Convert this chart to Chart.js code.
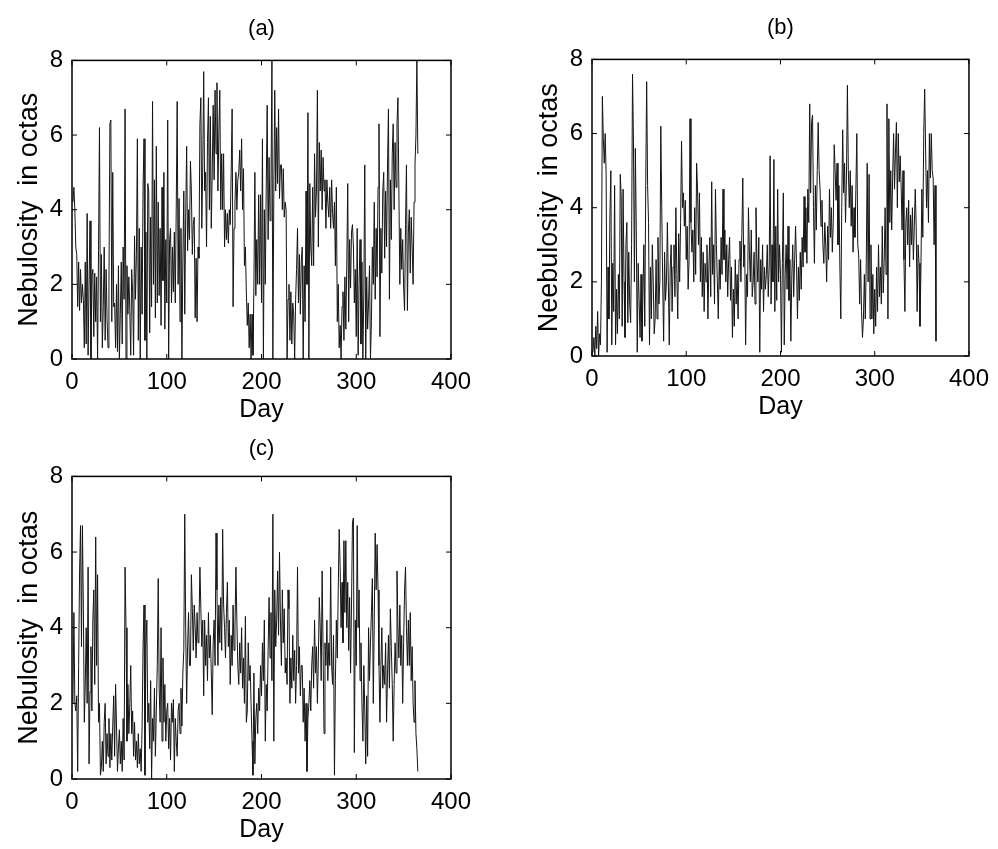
<!DOCTYPE html>
<html>
<head>
<meta charset="utf-8">
<title>Nebulosity</title>
<script src="https://cdn.jsdelivr.net/npm/chart.js@4.4.1/dist/chart.umd.min.js"></script>
<style>
  body { margin: 0; background: #fff; }
  #wrap { position: relative; width: 998px; height: 849px; background: #fff; }
  canvas { position: absolute; }
</style>
</head>
<body>
<div id="wrap">
  <canvas id="chartA" width="490" height="440" style="left:0px;top:0px"></canvas>
  <canvas id="chartB" width="478" height="440" style="left:520px;top:0px"></canvas>
  <canvas id="chartC" width="490" height="424" style="left:0px;top:425px"></canvas>
</div>
<script>
// daily nebulosity (octas)
const seriesA = [
  4.2, 4.6, 4.0, 3.0, 2.8, 1.4, 2.6, 1.3, 2.4, 1.5,
  2.0, 1.6, 0.3, 2.6, 0.4, 3.9, 0.1, 2.0, 3.7, 0.0,
  2.2, 2.4, 0.6, 2.3, 1.0, 2.2, 0.0, 2.9, 6.2, 1.0,
  2.8, 0.3, 1.4, 3.0, 0.5, 2.4, 1.1, 0.3, 2.0, 6.3,
  6.4, 1.0, 5.0, 1.4, 1.5, 0.3, 2.0, 0.2, 2.5, 0.0,
  1.2, 2.6, 0.4, 3.0, 1.6, 6.7, 0.0, 2.5, 1.2, 2.2,
  1.3, 0.1, 2.4, 1.8, 0.1, 3.3, 1.6, 2.8, 5.9, 0.5,
  3.5, 0.0, 3.0, 1.2, 4.6, 5.9, 0.5, 3.4, 0.0, 4.7,
  4.5, 0.7, 3.8, 1.4, 6.9, 2.0, 4.8, 1.1, 5.7, 1.5,
  4.2, 1.7, 3.5, 0.9, 4.6, 2.1, 5.0, 0.8, 3.2, 1.5,
  6.4, 0.0, 3.2, 3.5, 1.5, 3.0, 1.8, 3.4, 1.5, 4.0,
  6.9, 2.0, 4.3, 1.0, 3.5, 0.0, 2.6, 4.5, 1.2, 3.8,
  5.7, 2.9, 4.0, 3.2, 5.3, 4.5, 2.8, 3.6, 3.8, 1.1,
  2.7, 1.0, 3.0, 2.7, 6.3, 7.0, 3.5, 5.2, 7.7, 4.5,
  5.0, 3.0, 5.8, 7.0, 4.0, 6.5, 3.5, 5.0, 6.8, 4.8,
  7.2, 5.5, 7.4, 4.5, 6.1, 7.2, 4.0, 5.5, 4.0, 5.5,
  3.0, 4.0, 3.2, 3.9, 3.1, 4.0, 3.6, 5.0, 6.7, 1.4,
  3.5, 4.2, 5.0, 4.0, 4.8, 5.0, 5.6, 4.5, 5.9, 4.0,
  5.1, 2.5, 3.0, 1.8, 0.9, 1.5, 0.3, 1.2, 0.0, 1.2,
  0.1, 2.0, 5.0, 1.7, 3.2, 2.0, 4.4, 2.0, 4.4, 1.5,
  5.9, 0.0, 4.0, 2.0, 4.6, 6.8, 3.2, 5.4, 3.7, 4.5,
  8.0, 0.0, 4.5, 7.2, 4.5, 6.2, 4.7, 6.7, 4.3, 5.2,
  5.2, 4.0, 5.1, 3.8, 4.2, 4.0, 0.0, 1.6, 2.0, 0.5,
  1.8, 0.4, 1.5, 1.2, 0.0, 1.6, 2.4, 3.5, 1.5, 2.8,
  1.2, 2.6, 3.0, 0.0, 2.5, 1.0, 4.5, 2.0, 6.6, 0.0,
  4.7, 3.0, 2.5, 4.6, 2.5, 5.5, 3.8, 4.5, 7.2, 3.0,
  5.8, 4.5, 5.6, 4.0, 5.4, 4.5, 4.8, 3.5, 4.8, 4.2,
  3.8, 4.6, 3.5, 4.8, 3.9, 3.5, 4.2, 2.5, 4.6, 1.0,
  2.0, 0.3, 0.9, 0.0, 1.4, 1.8, 0.5, 2.2, 0.8, 2.5,
  4.7, 1.0, 3.2, 1.9, 3.4, 3.6, 3.0, 1.5, 2.4, 0.6,
  3.5, 0.1, 2.0, 3.2, 0.4, 2.6, 0.0, 1.8, 5.2, 0.0,
  2.2, 0.8, 1.5, 2.5, 0.0, 1.0, 3.0, 2.0, 4.2, 1.6,
  3.5, 2.2, 4.6, 6.3, 0.6, 3.5, 2.3, 4.5, 5.0, 2.7,
  4.5, 3.0, 5.2, 6.7, 1.6, 4.8, 3.2, 5.5, 6.3, 4.0,
  5.8, 4.6, 6.3, 7.0, 4.5, 2.0, 3.5, 2.4, 3.2, 1.9,
  1.3, 3.6, 5.2, 1.3, 3.4, 4.0, 2.3, 3.8, 3.0, 2.0,
  4.2, 5.2, 6.0, 8.0, 5.5
];

const seriesB = [
  0.1, 0.5, 0.0, 0.8, 0.2, 1.2, 0.0, 0.6, 0.3, 2.0,
  7.0, 5.9, 5.2, 6.0, 4.9, 0.1, 2.4, 1.0, 3.8, 5.0,
  0.3, 2.5, 1.2, 4.6, 0.3, 1.8, 0.6, 2.2, 1.0, 4.9,
  4.3, 0.8, 4.5, 2.0, 0.5, 3.0, 3.6, 0.9, 2.8, 1.4,
  0.9, 3.0, 7.6, 5.8, 2.0, 5.6, 3.4, 0.1, 2.5, 1.5,
  0.5, 2.2, 0.4, 1.6, 3.0, 0.8, 4.6, 7.4, 4.6, 3.6,
  0.3, 2.4, 1.0, 3.0, 2.0, 0.6, 1.0, 2.6, 1.0, 3.2,
  1.4, 2.0, 6.2, 4.0, 2.0, 0.4, 2.8, 1.5, 2.0, 3.6,
  2.0, 0.3, 2.4, 3.0, 1.2, 2.4, 3.0, 1.6, 4.0, 2.2,
  1.0, 3.3, 2.0, 3.6, 5.8, 4.0, 4.4, 3.5, 4.2, 2.6,
  3.5, 1.8, 2.6, 6.4, 3.6, 2.8, 3.4, 2.0, 4.0, 2.2,
  5.2, 4.5, 3.0, 4.4, 2.0, 3.2, 1.6, 2.8, 1.2, 2.5,
  2.0, 3.0, 1.0, 2.4, 3.2, 1.6, 4.7, 2.2, 3.0, 1.4,
  4.5, 3.0, 2.0, 1.0, 2.6, 1.8, 3.2, 2.2, 4.5, 2.6,
  3.4, 2.0, 3.0, 1.6, 2.6, 3.2, 1.5, 2.4, 0.5, 1.8,
  0.8, 2.6, 1.4, 2.2, 1.0, 2.6, 3.1, 2.0, 3.3, 4.8,
  2.4, 3.0, 0.3, 2.2, 1.6, 4.0, 2.8, 2.0, 3.4, 1.6,
  2.0, 2.8, 1.4, 4.0, 2.6, 2.0, 3.2, 0.1, 2.6, 1.8,
  3.0, 1.2, 2.4, 1.8, 2.2, 3.0, 1.6, 2.4, 5.4, 1.4,
  3.0, 2.0, 5.3, 1.2, 3.5, 1.5, 4.5, 2.0, 3.0, 2.2,
  0.1, 2.5, 4.4, 0.3, 2.2, 3.0, 1.8, 3.5, 1.5, 2.6,
  0.4, 2.2, 3.0, 1.6, 2.6, 3.5, 2.5, 1.0, 2.4, 1.5,
  2.8, 1.8, 3.2, 2.4, 4.3, 2.8, 4.0, 2.5, 4.5, 3.6,
  6.8, 4.4, 6.3, 6.5, 4.0, 2.5, 4.6, 3.4, 5.0, 6.3,
  5.0, 4.5, 3.5, 4.2, 3.0, 2.5, 3.6, 3.0, 2.0, 3.5,
  2.6, 4.5, 3.2, 4.0, 2.8, 3.6, 5.7, 5.0, 4.2, 5.2,
  3.0, 4.6, 2.4, 1.0, 4.0, 6.1, 4.4, 5.2, 3.6, 4.8,
  7.3, 5.0, 4.0, 5.0, 3.5, 4.6, 2.8, 4.0, 3.2, 4.5,
  6.0, 3.0, 2.7, 1.4, 2.6, 1.2, 0.5, 1.0, 2.2, 1.0,
  2.5, 5.2, 2.0, 4.9, 1.0, 3.0, 1.0, 2.2, 0.6, 1.8,
  0.8, 2.4, 1.2, 3.0, 1.6, 2.4, 1.4, 3.5, 1.7, 2.5,
  4.0, 2.2, 6.8, 1.0, 6.4, 3.6, 5.0, 3.4, 4.8, 6.0,
  4.5, 5.5, 6.3, 4.0, 6.0, 4.7, 5.4, 4.6, 3.4, 5.0,
  2.6, 1.2, 3.6, 4.0, 3.0, 4.2, 2.4, 3.8, 3.0, 4.0,
  2.6, 3.5, 4.5, 3.5, 1.2, 3.0, 2.5, 0.8, 2.3, 4.5,
  3.2, 6.0, 7.2, 5.5, 4.0, 5.0, 3.6, 6.0, 4.8, 6.0,
  5.0, 4.8, 3.0, 4.6, 0.4
];

const seriesC = [
  2.0, 4.4, 2.0, 1.8, 2.2, 0.2, 3.0, 5.5, 6.7, 3.5,
  6.7, 4.5, 1.5, 2.5, 4.0, 2.0, 5.6, 0.4, 2.3, 3.5,
  1.8, 4.2, 5.0, 2.5, 6.4, 3.0, 5.4, 1.5, 2.0, 0.1,
  0.3, 1.0, 0.2, 1.5, 2.0, 0.4, 1.2, 0.6, 1.6, 0.3,
  1.2, 0.5, 1.4, 2.2, 0.6, 2.5, 1.4, 0.2, 0.8, 1.3,
  0.4, 1.0, 0.2, 1.6, 0.5, 5.6, 4.0, 1.0, 2.5, 1.2,
  2.0, 3.0, 1.2, 1.8, 0.6, 1.5, 0.5, 1.0, 0.3, 1.2,
  0.4, 0.8, 0.2, 1.4, 3.5, 4.6, 0.1, 3.5, 4.2, 1.5,
  2.0, 0.8, 2.6, 0.0, 1.6, 1.0, 2.4, 0.6, 1.8, 3.0,
  5.3, 2.4, 1.5, 4.0, 1.0, 3.2, 1.5, 2.5, 1.0, 1.8,
  2.0, 0.8, 1.6, 0.5, 2.0, 1.5, 2.1, 0.2, 1.6, 1.0,
  0.6, 1.8, 2.0, 1.2, 2.4, 1.4, 2.8, 3.4, 7.0, 4.0,
  2.0, 3.5, 4.4, 3.0, 3.0, 5.4, 4.5, 3.4, 4.6, 4.0,
  3.2, 4.4, 3.6, 4.0, 5.6, 4.5, 3.5, 4.2, 2.2, 4.2,
  3.0, 3.8, 2.6, 4.4, 3.2, 3.8, 2.8, 1.7, 3.6, 4.2,
  3.0, 6.5, 5.0, 3.0, 4.6, 3.6, 4.8, 3.4, 6.6, 4.6,
  4.0, 3.2, 4.4, 5.2, 3.5, 4.2, 2.5, 3.8, 3.0, 4.6,
  3.4, 4.0, 5.6, 4.2, 3.0, 2.5, 3.6, 2.8, 4.0, 2.4,
  3.2, 2.0, 4.3, 1.5, 1.8, 3.6, 2.6, 3.0, 2.0, 1.0,
  0.1, 2.8, 0.4, 1.6, 2.0, 1.2, 2.4, 1.8, 3.0, 2.2,
  3.6, 2.6, 4.2, 1.0, 2.5, 1.8, 3.4, 4.8, 3.2, 4.4,
  2.6, 7.0, 1.0, 5.0, 3.5, 4.2, 5.5, 3.8, 6.0, 4.2,
  3.0, 5.0, 3.6, 4.5, 2.8, 3.2, 2.5, 5.0, 4.5, 2.0,
  3.2, 2.4, 3.8, 2.6, 3.4, 2.0, 3.0, 5.6, 2.8, 3.5,
  2.2, 3.0, 3.0, 1.5, 2.4, 1.0, 2.0, 0.2, 1.6, 2.0,
  2.6, 1.8, 3.0, 3.5, 2.4, 4.2, 2.8, 3.5, 2.0, 3.2,
  4.8, 4.0, 2.6, 5.5, 3.4, 1.2, 3.6, 3.0, 4.2, 2.6,
  3.6, 3.0, 5.6, 3.0, 2.5, 3.8, 0.1, 2.6, 4.2, 3.2,
  5.0, 6.6, 5.6, 4.0, 5.2, 3.6, 6.3, 4.4, 6.3, 4.0,
  5.2, 3.4, 4.8, 2.8, 4.6, 6.8, 6.9, 0.7, 4.2, 3.0,
  6.7, 4.0, 5.0, 2.6, 3.6, 2.0, 1.0, 3.0, 1.8, 0.4,
  2.2, 0.6, 4.0, 2.6, 3.6, 4.4, 5.3, 2.0, 4.2, 6.5,
  5.0, 6.2, 5.0, 3.0, 1.5, 3.0, 4.0, 2.4, 3.0, 2.5,
  3.6, 1.5, 2.8, 3.8, 2.4, 4.5, 3.5, 2.5, 1.0, 2.5,
  3.6, 2.8, 5.5, 4.0, 3.2, 4.6, 3.0, 3.8, 2.0, 3.6,
  5.0, 5.6, 4.0, 3.0, 4.2, 3.0, 4.4, 2.6, 3.5, 2.0,
  1.5, 2.6, 1.2, 0.8, 0.2
];

const xTicks = [0, 100, 200, 300, 400];
const yTicks = [0, 2, 4, 6, 8];
const panelTitles = ["(a)", "(b)", "(c)"];
const yTitles = ["Nebulosity  in octas", "Neebulosity  in octas", "Nebulosity  in octas"];
const xTitle = "Day";

const FONT = "'Liberation Sans', Arial, sans-serif";

// box around the plot with short inward ticks on all four sides
const boxFrame = {
  id: "boxFrame",
  afterDraw(chart) {
    const { ctx, chartArea: a, scales } = chart;
    ctx.save();
    ctx.strokeStyle = "#000";
    ctx.lineWidth = 1.5;
    ctx.strokeRect(a.left, a.top, a.right - a.left, a.bottom - a.top);
    ctx.lineWidth = 1;
    ctx.beginPath();
    xTicks.forEach((v) => {
      const px = scales.x.getPixelForValue(v);
      ctx.moveTo(px, a.bottom); ctx.lineTo(px, a.bottom - 5);
      ctx.moveTo(px, a.top); ctx.lineTo(px, a.top + 5);
    });
    yTicks.forEach((v) => {
      const py = scales.y.getPixelForValue(v);
      ctx.moveTo(a.left, py); ctx.lineTo(a.left + 5, py);
      ctx.moveTo(a.right, py); ctx.lineTo(a.right - 5, py);
    });
    ctx.stroke();
    ctx.restore();
  }
};

function makePanel(id, values, idx, pad, titlePad) {
  const ctx = document.getElementById(id).getContext("2d");
  return new Chart(ctx, {
    type: "line",
    data: {
      datasets: [{
        data: values.map((v, i) => ({ x: i + 1, y: v })),
        borderColor: "#151515",
        borderWidth: 1,
        pointRadius: 0,
        tension: 0,
        fill: false
      }]
    },
    options: {
      responsive: false,
      animation: false,
      devicePixelRatio: 1,
      layout: { padding: pad },
      plugins: {
        legend: { display: false },
        tooltip: { enabled: false },
        title: {
          display: true,
          text: panelTitles[idx],
          fullSize: false,
          color: "#000",
          font: { family: FONT, size: 22, weight: "normal" },
          padding: titlePad
        }
      },
      scales: {
        x: {
          type: "linear",
          min: 0,
          max: 400,
          afterBuildTicks: (s) => { s.ticks = xTicks.map((v) => ({ value: v })); },
          afterFit: (s) => { s.height = 70; },
          grid: { display: false, drawTicks: false },
          border: { display: false },
          ticks: { padding: 9, color: "#000", maxRotation: 0, font: { family: FONT, size: 24 } },
          title: { display: true, text: xTitle, color: "#000", font: { family: FONT, size: 25 }, padding: { top: 0, bottom: 4 } }
        },
        y: {
          min: 0,
          max: 8,
          afterBuildTicks: (s) => { s.ticks = yTicks.map((v) => ({ value: v })); },
          afterFit: (s) => { s.width = 72; },
          grid: { display: false, drawTicks: false },
          border: { display: false },
          ticks: { padding: 9, color: "#000", font: { family: FONT, size: 24 } },
          title: { display: true, text: yTitles[idx], color: "#000", font: { family: FONT, size: 27 }, padding: { top: 13, bottom: 0 } }
        }
      }
    },
    plugins: [boxFrame]
  });
}

makePanel("chartA", seriesA, 0, { left: 0, right: 39, top: 2, bottom: 11 }, { top: 14, bottom: 18 });
makePanel("chartB", seriesB, 1, { left: 0, right: 26, top: 1, bottom: 14 }, { top: 14, bottom: 18 });
makePanel("chartC", seriesC, 2, { left: 0, right: 39, top: 0, bottom: 0 }, { top: 11, bottom: 14 });
</script>
</body>
</html>
